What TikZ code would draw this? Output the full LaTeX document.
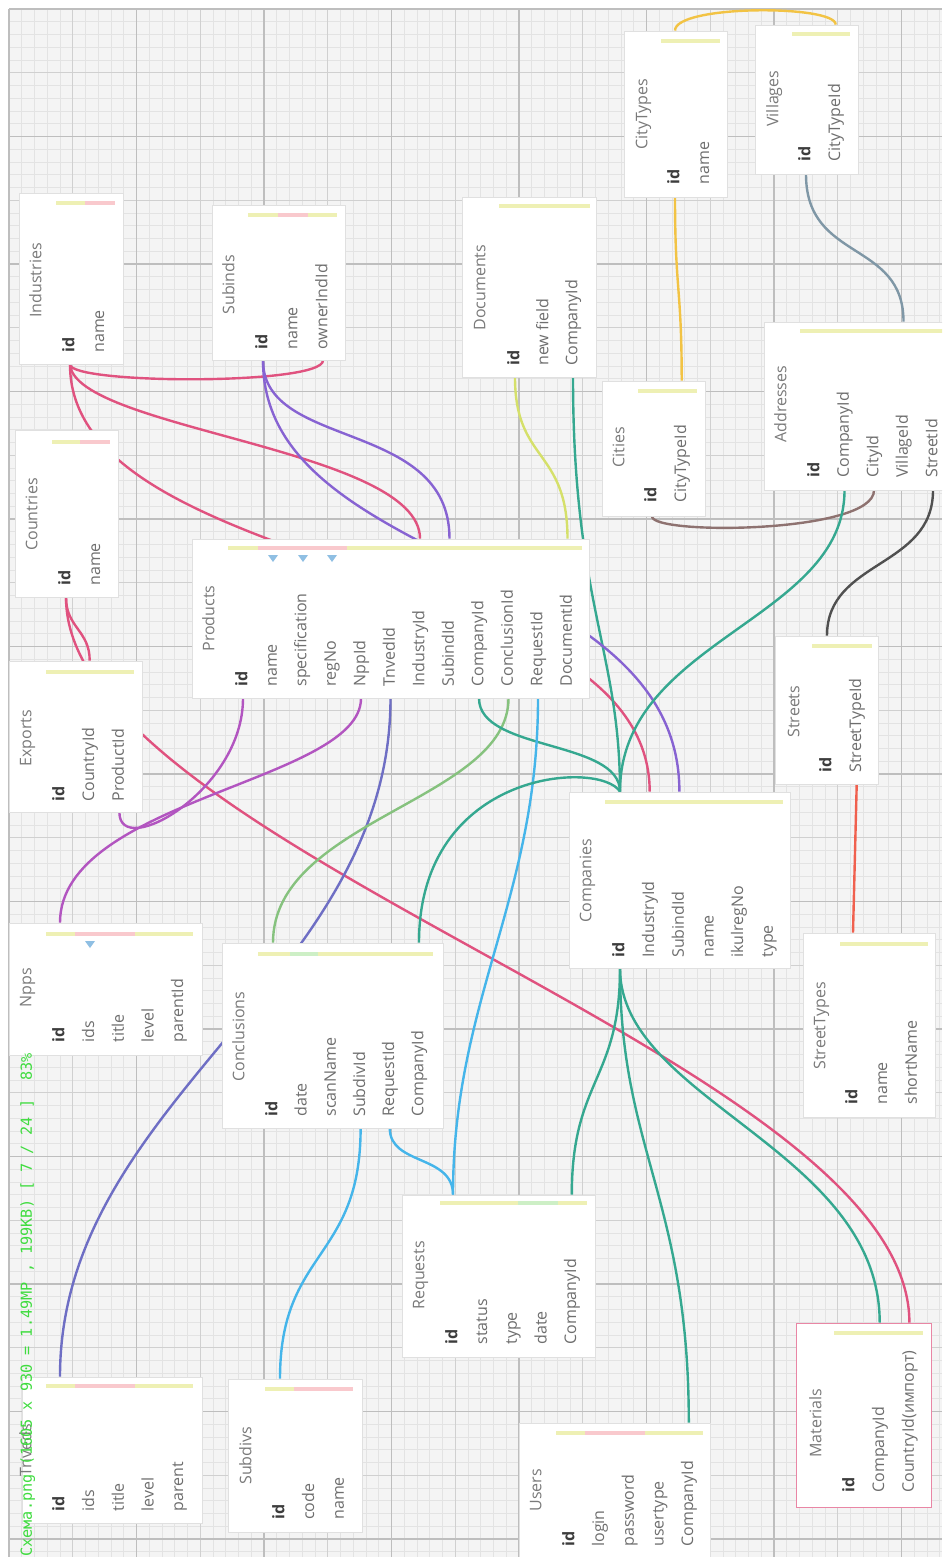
\documentclass[tikz,border=0pt]{standalone}
\usepackage{fontspec}
\setmainfont{Open Sans}
\newfontfamily\osdfont{DejaVu Sans Mono}
\usepackage{tikz}
\usetikzlibrary{fit}
\definecolor{gridBg}{HTML}{F4F4F4}
\definecolor{gridFine}{HTML}{E3E3E3}
\definecolor{gridMid}{HTML}{D0D0D0}
\definecolor{gridMajor}{HTML}{BEBEBE}
\definecolor{fieldGray}{HTML}{6E6E6E}
\definecolor{titleGray}{HTML}{7A7A7A}
\definecolor{keyGray}{HTML}{3C3C3C}
\definecolor{barYellow}{HTML}{EEF0B4}
\definecolor{barPink}{HTML}{F9C9CD}
\definecolor{barGreen}{HTML}{CDEFC6}
\definecolor{triBlue}{HTML}{8FBFE3}
\definecolor{pinkLink}{HTML}{E0527F}
\definecolor{plumLink}{HTML}{B255C0}
\definecolor{indigoLink}{HTML}{6E6EC4}
\definecolor{violetLink}{HTML}{8763D2}
\definecolor{greenLink}{HTML}{86C27E}
\definecolor{tealLink}{HTML}{35A890}
\definecolor{skyLink}{HTML}{45B5EA}
\definecolor{limeLink}{HTML}{D5E06A}
\definecolor{amberLink}{HTML}{F2C344}
\definecolor{slateLink}{HTML}{7F97A6}
\definecolor{brownLink}{HTML}{8E7270}
\definecolor{darkLink}{HTML}{505050}
\definecolor{redLink}{HTML}{F0604E}
\definecolor{osdGreen}{HTML}{3FDC3F}
\pgfdeclarelayer{grid}
\pgfdeclarelayer{links}
\pgfsetlayers{grid,links,main}

\begin{document}
\begin{tikzpicture}[
    x=0.5pt, y=-0.5pt,
    tbl/.style={draw=black!12, fill=white, inner sep=0pt},
    fld/.style={rotate=90, anchor=west, inner sep=0pt, text height=6pt, text depth=1.6pt,
                font=\fontsize{8}{9}\selectfont, text=fieldGray},
    key/.style={fld, font=\fontsize{8}{9}\selectfont\bfseries, text=keyGray},
    ttl/.style={fld, text=titleGray},
    bar/.style={line width=2pt},
    link/.style={line width=1.2pt}
]
    \useasboundingbox (0,0) rectangle (942,1557);
    \clip (0,0) rectangle (942,1557);

    % grid paper
    \begin{pgfonlayer}{grid}
        \fill[white] (0,0) rectangle (942,1557);
        \fill[gridBg] (9,9) rectangle (942,1557);
        \foreach \k in {0,...,73} \draw[gridFine, line width=0.35pt] ({9+12.75*\k},9) -- ({9+12.75*\k},1557);
        \foreach \k in {0,...,121} \draw[gridFine, line width=0.35pt] (9,{9+12.75*\k}) -- (942,{9+12.75*\k});
        \foreach \k in {0,...,14} \draw[gridMid, line width=0.45pt] ({9+63.75*\k},9) -- ({9+63.75*\k},1557);
        \foreach \k in {0,...,24} \draw[gridMid, line width=0.45pt] (9,{9+63.75*\k}) -- (942,{9+63.75*\k});
        \foreach \k in {0,...,7} \draw[gridMajor, line width=0.55pt] ({9+127.5*\k},9) -- ({9+127.5*\k},1557);
        \foreach \k in {0,...,12} \draw[gridMajor, line width=0.55pt] (9,{9+127.5*\k}) -- (942,{9+127.5*\k});
    \end{pgfonlayer}

    % tables
    \node[tbl, fit={(19,193) (123,364)}] (industries) {};
    \node[ttl] (industries-title) at (37,318) {Industries};
    \node[key] (industries-id) at (70,353) {id};
    \foreach \f [count=\i] in {name}
        \node[fld] (industries-\f) at ({70+29.7*\i},353) {\f};
    \draw[bar, barYellow] (56,203) -- (85,203);
    \draw[bar, barPink] (85,203) -- (115,203);

    \node[tbl, fit={(212,205) (345,360)}] (subinds) {};
    \node[ttl] (subinds-title) at (230,315) {Subinds};
    \node[key] (subinds-id) at (263,350) {id};
    \foreach \f [count=\i] in {name,ownerIndId}
        \node[fld] (subinds-\f) at ({263+30*\i},350) {\f};
    \draw[bar, barYellow] (248,215) -- (278,215);
    \draw[bar, barPink] (278,215) -- (308,215);
    \draw[bar, barYellow] (308,215) -- (337,215);

    \node[tbl, fit={(15,430) (118,597)}] (countries) {};
    \node[ttl] (countries-title) at (33,551) {Countries};
    \node[key] (countries-id) at (66,586) {id};
    \foreach \f [count=\i] in {name}
        \node[fld] (countries-\f) at ({66+29.7*\i},586) {\f};
    \draw[bar, barYellow] (52,442) -- (80,442);
    \draw[bar, barPink] (80,442) -- (110,442);

    \node[tbl, fit={(9,661) (142,812)}] (exports) {};
    \node[ttl] (exports-title) at (27,767) {Exports};
    \node[key] (exports-id) at (60,802) {id};
    \foreach \f [count=\i] in {CountryId,ProductId}
        \node[fld] (exports-\f) at ({60+29.7*\i},802) {\f};
    \draw[bar, barYellow] (46,672) -- (134,672);

    \node[tbl, fit={(192,539) (589,698)}] (products) {};
    \node[ttl] (products-title) at (210,652) {Products};
    \node[key] (products-id) at (243,687) {id};
    \foreach \f [count=\i] in {name,specification,regNo,NppId,TnvedId,IndustryId,SubindId,CompanyId,ConclusionId,RequestId,DocumentId}
        \node[fld] (products-\f) at ({243+29.5*\i},687) {\f};
    \draw[bar, barYellow] (228,548) -- (258,548);
    \draw[bar, barPink] (258,548) -- (347,548);
    \draw[bar, barYellow] (347,548) -- (582,548);
    \foreach \t in {273,303,332}
        \fill[triBlue] ({\t-5},555) -- ({\t+5},555) -- (\t,562) -- cycle;

    \node[tbl, fit={(462,197) (596,377)}] (documents) {};
    \node[ttl] (documents-title) at (481,331) {Documents};
    \node[key] (documents-id) at (515,366) {id};
    \node[fld] (documents-newfield) at (544,366) {new field};
    \node[fld] (documents-CompanyId) at (573,366) {CompanyId};
    \draw[bar, barYellow] (499,206) -- (590,206);

    \node[tbl, fit={(624,31) (727,197)}] (citytypes) {};
    \node[ttl] (citytypes-title) at (643,150) {CityTypes};
    \node[key] (citytypes-id) at (675,185) {id};
    \foreach \f [count=\i] in {name}
        \node[fld] (citytypes-\f) at ({675+29.7*\i},185) {\f};
    \draw[bar, barYellow] (661,41) -- (720,41);

    \node[tbl, fit={(755,25) (858,174)}] (villages) {};
    \node[ttl] (villages-title) at (774,127) {Villages};
    \node[key] (villages-id) at (806,162) {id};
    \foreach \f [count=\i] in {CityTypeId}
        \node[fld] (villages-\f) at ({806+29.7*\i},162) {\f};
    \draw[bar, barYellow] (792,34) -- (850,34);

    \node[tbl, fit={(602,381) (705,516)}] (cities) {};
    \node[ttl] (cities-title) at (620,468) {Cities};
    \node[key] (cities-id) at (652,503) {id};
    \foreach \f [count=\i] in {CityTypeId}
        \node[fld] (cities-\f) at ({652+29.7*\i},503) {\f};
    \draw[bar, barYellow] (638,391) -- (697,391);

    \node[tbl, fit={(764,322) (960,490)}] (addresses) {};
    \node[ttl] (addresses-title) at (782,443) {Addresses};
    \node[key] (addresses-id) at (815,478) {id};
    \foreach \f [count=\i] in {CompanyId,CityId,VillageId,StreetId}
        \node[fld] (addresses-\f) at ({815+29.5*\i},478) {\f};
    \draw[bar, barYellow] (800,331) -- (945,331);

    \node[tbl, fit={(775,636) (878,784)}] (streets) {};
    \node[ttl] (streets-title) at (795,738) {Streets};
    \node[key] (streets-id) at (827,773) {id};
    \foreach \f [count=\i] in {StreetTypeId}
        \node[fld] (streets-\f) at ({827+29.7*\i},773) {\f};
    \draw[bar, barYellow] (812,646) -- (872,646);

    \node[tbl, fit={(569,792) (790,968)}] (companies) {};
    \node[ttl] (companies-title) at (587,923) {Companies};
    \node[key] (companies-id) at (620,958) {id};
    \foreach \f [count=\i] in {IndustryId,SubindId,name,ikulregNo,type}
        \node[fld] (companies-\f) at ({620+29.7*\i},958) {\f};
    \draw[bar, barYellow] (605,802) -- (783,802);

    \node[tbl, fit={(803,933) (935,1117)}] (streettypes) {};
    \node[ttl] (streettypes-title) at (821,1070) {StreetTypes};
    \node[key] (streettypes-id) at (853,1105) {id};
    \foreach \f [count=\i] in {name,shortName}
        \node[fld] (streettypes-\f) at ({853+29.7*\i},1105) {\f};
    \draw[bar, barYellow] (840,944) -- (928,944);

    \node[tbl, fit={(9,923) (202,1055)}] (npps) {};
    \node[ttl] (npps-title) at (27,1008) {Npps};
    \node[key] (npps-id) at (60,1043) {id};
    \foreach \f [count=\i] in {ids,title,level,parentId}
        \node[fld] (npps-\f) at ({60+29.7*\i},1043) {\f};
    \draw[bar, barYellow] (46,934) -- (75,934);
    \draw[bar, barPink] (75,934) -- (135,934);
    \draw[bar, barYellow] (135,934) -- (193,934);
    \fill[triBlue] (85,941) -- (95,941) -- (90,948) -- cycle;

    \node[tbl, fit={(222,943) (443,1128)}] (conclusions) {};
    \node[ttl] (conclusions-title) at (240,1082) {Conclusions};
    \node[key] (conclusions-id) at (273,1117) {id};
    \foreach \f [count=\i] in {date,scanName,SubdivId,RequestId,CompanyId}
        \node[fld] (conclusions-\f) at ({273+29.2*\i},1117) {\f};
    \draw[bar, barYellow] (258,954) -- (290,954);
    \draw[bar, barGreen] (290,954) -- (318,954);
    \draw[bar, barYellow] (318,954) -- (433,954);

    \node[tbl, fit={(22,1377) (202,1523)}] (tnveds) {};
    \node[ttl] (tnveds-title) at (27,1477) {Tnveds};
    \node[key] (tnveds-id) at (60,1512) {id};
    \foreach \f [count=\i] in {ids,title,level,parent}
        \node[fld] (tnveds-\f) at ({60+29.7*\i},1512) {\f};
    \draw[bar, barYellow] (46,1386) -- (75,1386);
    \draw[bar, barPink] (75,1386) -- (135,1386);
    \draw[bar, barYellow] (135,1386) -- (193,1386);

    \node[tbl, fit={(228,1379) (362,1532)}] (subdivs) {};
    \node[ttl] (subdivs-title) at (247,1485) {Subdivs};
    \node[key] (subdivs-id) at (280,1520) {id};
    \foreach \f [count=\i] in {code,name}
        \node[fld] (subdivs-\f) at ({280+29.7*\i},1520) {\f};
    \draw[bar, barYellow] (265,1389) -- (294,1389);
    \draw[bar, barPink] (294,1389) -- (353,1389);

    \node[tbl, fit={(402,1195) (595,1357)}] (requests) {};
    \node[ttl] (requests-title) at (420,1310) {Requests};
    \node[key] (requests-id) at (453,1345) {id};
    \foreach \f [count=\i] in {status,type,date,CompanyId}
        \node[fld] (requests-\f) at ({453+29.7*\i},1345) {\f};
    \draw[bar, barYellow] (440,1203) -- (518,1203);
    \draw[bar, barGreen] (518,1203) -- (558,1203);
    \draw[bar, barYellow] (558,1203) -- (587,1203);

    \node[tbl, fit={(519,1423) (710,1580)}] (users) {};
    \node[ttl] (users-title) at (537,1512) {Users};
    \node[key] (users-id) at (570,1547) {id};
    \foreach \f [count=\i] in {login,password,usertype,CompanyId}
        \node[fld] (users-\f) at ({570+29.7*\i},1547) {\f};
    \draw[bar, barYellow] (556,1433) -- (585,1433);
    \draw[bar, barPink] (585,1433) -- (645,1433);
    \draw[bar, barYellow] (645,1433) -- (703,1433);

    \node[tbl, draw=pinkLink!70, fit={(796,1323) (931,1507)}] (materials) {};
    \node[ttl] (materials-title) at (817,1458) {Materials};
    \node[key] (materials-id) at (850,1493) {id};
    \node[fld] (materials-CompanyId) at (879.7,1493) {CompanyId};
    \node[fld] (materials-CountryId) at (909.4,1493) {CountryId(импорт)};
    \draw[bar, barYellow] (834,1333) -- (923,1333);

    % relations
    \begin{pgfonlayer}{links}
    \draw[link, pinkLink] (industries-id |- industries.south) .. controls +(0,20) and +(0,25) .. (subinds-ownerIndId |- subinds.south);
    \draw[link, pinkLink] (industries-id |- industries.south) .. controls +(5,65) and +(0,-90) .. (products-IndustryId |- products.north);
    \draw[link, pinkLink] (industries-id |- industries.south) .. controls +(0,216) and +(0,-232) .. (companies-IndustryId |- companies.north);
    \draw[link, pinkLink] (countries-id |- countries.south) .. controls +(0,30) and +(0,-30) .. (exports-CountryId |- exports.north);
    \draw[link, pinkLink] (countries-id |- countries.south) .. controls +(0,253) and +(0,-263) .. (materials-CountryId |- materials.north);
    \draw[link, plumLink] (products-id |- products.south) .. controls +(0,92) and +(0,48) .. (exports-ProductId |- exports.south);
    \draw[link, plumLink] (products-NppId |- products.south) .. controls +(0,83) and +(0,-123) .. (npps-id |- npps.north);
    \draw[link, indigoLink] (products-TnvedId |- products.south) .. controls +(0,282) and +(0,-277) .. (tnveds-id |- tnveds.north);
    \draw[link, greenLink] (products-ConclusionId |- products.south) .. controls +(0,102) and +(0,-123) .. (conclusions-id |- conclusions.north);
    \draw[link, tealLink] (products-CompanyId |- products.south) .. controls +(0,53) and +(0,-52) .. (companies-id |- companies.north);
    \draw[link, skyLink] (products-RequestId |- products.south) .. controls +(0,200) and +(0,-195) .. (requests-id |- requests.north);
    \draw[link, limeLink] (documents-id |- documents.south) .. controls +(0,85) and +(0,-90) .. (products-DocumentId |- products.north);
    \draw[link, tealLink] (documents-CompanyId |- documents.south) .. controls +(0,225) and +(0,-140) .. (companies-id |- companies.north);
    \draw[link, violetLink] (subinds-id |- subinds.south) .. controls +(0,90) and +(0,-120) .. (products-SubindId |- products.north);
    \draw[link, violetLink] (subinds-id |- subinds.south) .. controls +(0,210) and +(0,-232) .. (companies-SubindId |- companies.north);
    \draw[link, amberLink] (citytypes-id |- citytypes.south) .. controls +(0,93) and +(0,-93) .. (cities-CityTypeId |- cities.north);
    \draw[link, amberLink] (citytypes-id |- citytypes.north) .. controls +(0,-26) and +(0,-20) .. (villages-CityTypeId |- villages.north);
    \draw[link, slateLink] (villages-id |- villages.south) .. controls +(0,88) and +(0,-82) .. (addresses-VillageId |- addresses.north);
    \draw[link, brownLink] (cities-id |- cities.south) .. controls +(0,19) and +(0,43) .. (addresses-CityId |- addresses.south);
    \draw[link, tealLink] (addresses-CompanyId |- addresses.south) .. controls +(0,130) and +(0,-152) .. (companies-id |- companies.north);
    \draw[link, darkLink] (addresses-StreetId |- addresses.south) .. controls +(0,78) and +(0,-76) .. (streets-id |- streets.north);
    \draw[link, redLink] (streets-StreetTypeId |- streets.south) -- (streettypes-id |- streettypes.north);
    \draw[link, tealLink] (companies-id |- companies.south) .. controls +(0,112) and +(0,-115) .. (requests-CompanyId |- requests.north);
    \draw[link, tealLink] (companies-id |- companies.south) .. controls +(0,182) and +(0,-223) .. (users-CompanyId |- users.north);
    \draw[link, tealLink] (companies-id |- companies.south) .. controls +(0,132) and +(0,-173) .. (materials-CompanyId |- materials.north);
    \draw[link, tealLink] (companies-id |- companies.north) .. controls +(-20,-32) and +(0,-173) .. (conclusions-CompanyId |- conclusions.north);
    \draw[link, skyLink] (conclusions-SubdivId |- conclusions.south) .. controls +(0,132) and +(0,-129) .. (subdivs-id |- subdivs.north);
    \draw[link, skyLink] (conclusions-RequestId |- conclusions.south) .. controls +(0,37) and +(0,-40) .. (requests-id |- requests.north);
    \end{pgfonlayer}

    % viewer caption
    \node[rotate=90, anchor=base west, inner sep=0pt, text=osdGreen, font=\osdfont\fontsize{7.6}{8}\selectfont] (caption) at (32,1557)
        {Схема.png (1605 x 930 = 1.49MP , 199KB) [ 7 / 24 ]\ \ 83\%};
\end{tikzpicture}
\end{document}
